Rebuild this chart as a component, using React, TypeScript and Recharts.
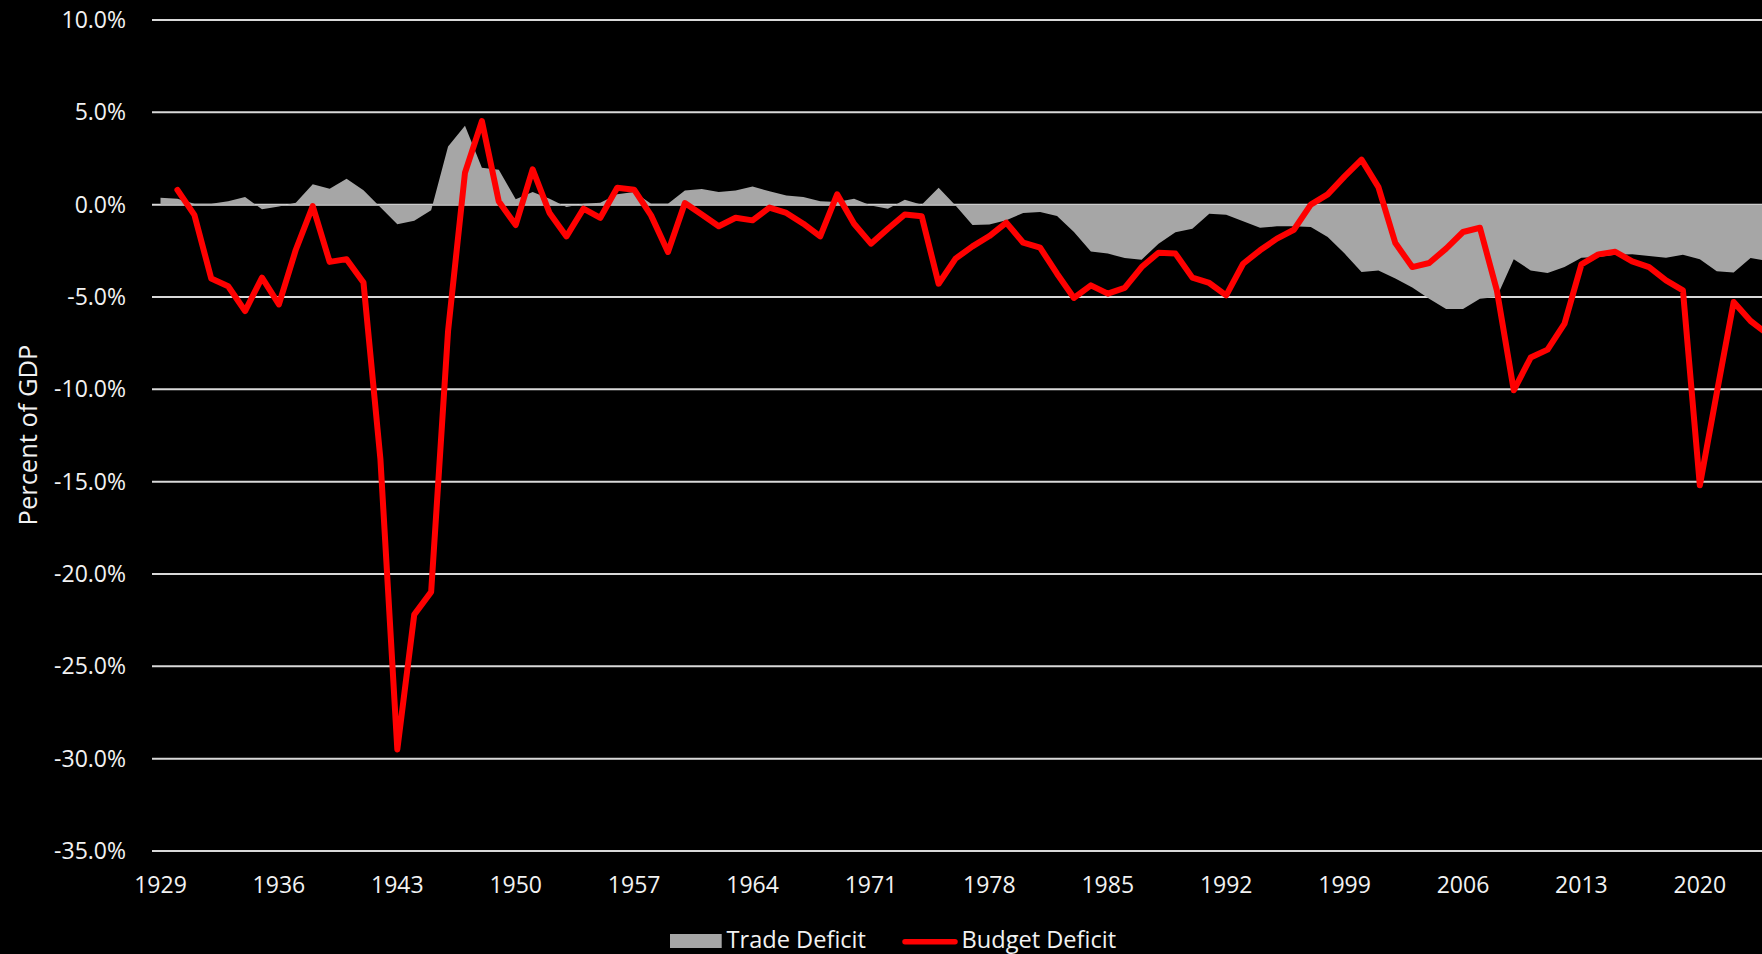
import React from "react";
import { ComposedChart, Area, Line, XAxis, YAxis, CartesianGrid } from "recharts";

const YEARS = [
  1929, 1930, 1931, 1932, 1933, 1934, 1935, 1936, 1937, 1938, 1939, 1940,
  1941, 1942, 1943, 1944, 1945, 1946, 1947, 1948, 1949, 1950, 1951, 1952,
  1953, 1954, 1955, 1956, 1957, 1958, 1959, 1960, 1961, 1962, 1963, 1964,
  1965, 1966, 1967, 1968, 1969, 1970, 1971, 1972, 1973, 1974, 1975, 1976,
  1977, 1978, 1979, 1980, 1981, 1982, 1983, 1984, 1985, 1986, 1987, 1988,
  1989, 1990, 1991, 1992, 1993, 1994, 1995, 1996, 1997, 1998, 1999, 2000,
  2001, 2002, 2003, 2004, 2005, 2006, 2007, 2008, 2009, 2010, 2011, 2012,
  2013, 2014, 2015, 2016, 2017, 2018, 2019, 2020, 2021, 2022, 2023, 2024,
];

// trade balance, % of GDP
const TRADE_DEFICIT = [
  0.38, 0.32, 0.05, 0.05, 0.18, 0.41, -0.25, -0.1, 0.1, 1.1, 0.86, 1.4,
  0.78, -0.14, -1.06, -0.87, -0.3, 3.15, 4.28, 2.0, 1.89, 0.3, 0.68, 0.32,
  -0.13, 0.05, 0.1, 0.56, 0.68, 0.05, 0.05, 0.77, 0.85, 0.68, 0.77, 0.99,
  0.72, 0.49, 0.41, 0.18, 0.14, 0.32, -0.05, -0.22, 0.27, 0.0, 0.92, -0.04,
  -1.1, -1.07, -0.85, -0.45, -0.4, -0.62, -1.48, -2.53, -2.65, -2.89, -2.98, -2.11,
  -1.5, -1.3, -0.49, -0.54, -0.9, -1.25, -1.17, -1.17, -1.21, -1.75, -2.65, -3.65,
  -3.56, -4.0, -4.49, -5.09, -5.65, -5.65, -5.09, -5.0, -2.96, -3.56, -3.7, -3.38,
  -2.87, -2.83, -2.71, -2.69, -2.78, -2.87, -2.71, -2.96, -3.61, -3.67, -2.89, -3.05,
];

// federal budget balance, % of GDP (no 1929 value)
const BUDGET_DEFICIT = [
  null, 0.8, -0.55, -4.0, -4.42, -5.76, -3.95, -5.4, -2.44, -0.08, -3.1, -2.95,
  -4.22, -13.77, -29.5, -22.2, -20.97, -6.84, 1.73, 4.52, 0.17, -1.1, 1.91, -0.45,
  -1.72, -0.22, -0.71, 0.92, 0.81, -0.58, -2.56, 0.09, -0.53, -1.17, -0.71, -0.85,
  -0.16, -0.45, -1.03, -1.72, 0.56, -1.03, -2.11, -1.3, -0.53, -0.63, -4.28, -2.92,
  -2.26, -1.7, -0.97, -2.06, -2.33, -3.74, -5.05, -4.37, -4.82, -4.51, -3.38, -2.6,
  -2.65, -3.95, -4.24, -4.91, -3.2, -2.47, -1.84, -1.36, 0.0, 0.56, 1.53, 2.44,
  0.95, -2.08, -3.38, -3.16, -2.38, -1.48, -1.25, -4.64, -10.05, -8.28, -7.85, -6.44,
  -3.23, -2.69, -2.55, -3.07, -3.38, -4.1, -4.64, -15.2, -10.2, -5.27, -6.3, -7.0,
];

const Y_TICKS = [10, 5, 0, -5, -10, -15, -20, -25, -30, -35];

const data = YEARS.map((year, i) => ({
  year: String(year),
  trade: TRADE_DEFICIT[i],
  budget: BUDGET_DEFICIT[i],
}));

const FONT = "'Open Sans', sans-serif";
const TEXT = "#f2f2f2";
const GRAY = "#a6a6a6";
const RED = "#ff0000";

export default function App() {
  return (
    <div
      style={{
        position: "absolute",
        top: 0,
        left: 0,
        width: 1762,
        height: 954,
        overflow: "hidden",
        background: "#000",
        fontFamily: FONT,
      }}
    >
      <ComposedChart
        width={1776}
        height={954}
        data={data}
        margin={{ top: 20, right: 0, bottom: 0, left: 0 }}
      >
        <XAxis
          dataKey="year"
          interval={6}
          axisLine={false}
          tickLine={false}
          tickSize={0}
          tickMargin={26}
          height={103}
          padding={{ left: 8.5, right: 8.5 }}
          tick={{ fill: TEXT, fontSize: 23, fontFamily: FONT }}
        />
        <YAxis
          type="number"
          domain={[-35, 10]}
          ticks={Y_TICKS}
          width={152}
          axisLine={false}
          tickLine={false}
          tickSize={0}
          tickMargin={26}
          tick={{ fill: TEXT, fontSize: 23, fontFamily: FONT }}
          tickFormatter={(v: number) => `${v.toFixed(1)}%`}
        />
        <Area
          dataKey="trade"
          type="linear"
          fill={GRAY}
          fillOpacity={1}
          stroke="none"
          baseValue={0}
          isAnimationActive={false}
        />
        <CartesianGrid vertical={false} stroke="#d9d9d9" strokeWidth={2} />
        <Line
          dataKey="budget"
          type="linear"
          stroke={RED}
          strokeWidth={6}
          strokeLinecap="round"
          strokeLinejoin="round"
          dot={false}
          isAnimationActive={false}
        />
      </ComposedChart>

      {/* axis title + legend */}
      <svg
        width={1762}
        height={954}
        style={{ position: "absolute", top: 0, left: 0, pointerEvents: "none" }}
      >
        <text
          transform="translate(36.5,435) rotate(-90)"
          textAnchor="middle"
          fontSize={25.5}
          fill={TEXT}
          fontFamily={FONT}
        >
          Percent of GDP
        </text>
        <rect x={670} y={934} width={51.7} height={14} fill={GRAY} />
        <text x={726.5} y={948.3} fontSize={23.6} fill={TEXT} fontFamily={FONT}>
          Trade Deficit
        </text>
        <line
          x1={905}
          x2={955}
          y1={941.7}
          y2={941.7}
          stroke={RED}
          strokeWidth={5.5}
          strokeLinecap="round"
        />
        <text x={961.5} y={948.3} fontSize={23.6} fill={TEXT} fontFamily={FONT}>
          Budget Deficit
        </text>
      </svg>
    </div>
  );
}
